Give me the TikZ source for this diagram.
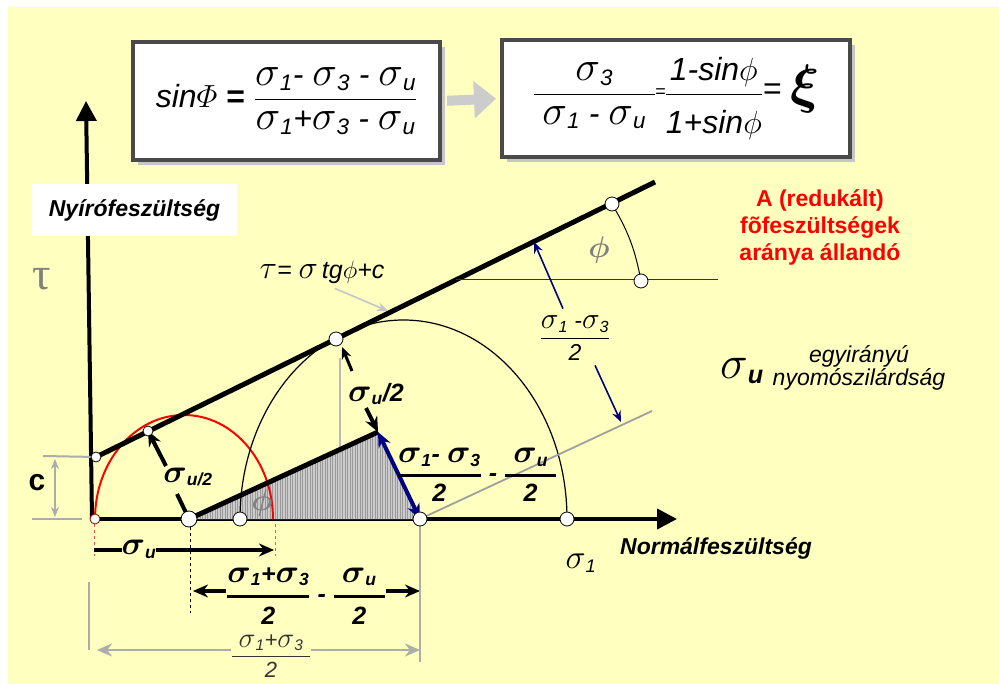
\RequirePackage{fix-cm}
\documentclass[tikz,border=0pt]{standalone}
\usepackage{amsmath}
\usepackage{fontspec}
\setmainfont{Liberation Sans}
\newfontfamily\taufont{Liberation Serif}
\usepackage{xcolor}
\usetikzlibrary{arrows.meta}
\usetikzlibrary{shadows}
\definecolor{bgyellow}{HTML}{FFFFC0}
\definecolor{boxgray}{HTML}{4A4A4A}
\definecolor{navyarrow}{HTML}{000080}
\newcommand{\bsig}{\text{\scalebox{1.3}{$\sigma$}}}
\newcommand{\sgm}[1]{\bsig_{\textit{#1}}}
\newcommand{\fsz}[2]{\fontsize{#1}{#2}\selectfont}

\begin{document}
\begin{tikzpicture}[
  x=1pt, y=-1pt,
  every node/.style={font=\fsz{23}{26}\itshape, inner sep=1pt},
  formbox/.style={draw=boxgray, line width=4pt, fill=white,
    drop shadow={shadow xshift=5pt, shadow yshift=-5pt, fill=gray!45, opacity=1}},
  axis/.style={line width=4pt, -{Triangle[length=20pt,width=20pt]}},
  envelope/.style={line width=5pt},
  thinarc/.style={line width=1.2pt},
  dot/.style={circle, draw, fill=white, line width=0.8pt, inner sep=0pt, minimum size=14pt},
  smalldot/.style={dot, minimum size=10pt},
  dimline/.style={draw=gray!65, line width=2pt},
  boldlbl/.style={font=\fsz{25}{30}\bfseries\itshape\boldmath},
  tip/.style={-{Stealth[length=15pt,width=13pt]}},
  twotip/.style={{Stealth[length=15pt,width=13pt]}-{Stealth[length=15pt,width=13pt]}},
  gap/.style={fill=bgyellow, inner sep=0pt}
]
\fill[white] (0,0) rectangle (999,684);
\fill[bgyellow] (8,7) rectangle (999,684);
\useasboundingbox (0,0) rectangle (999,684);

% formulas
\node[formbox, minimum width=307pt, minimum height=118pt] (box1) at (286.5,101)
  {\fsz{32}{34}sin$\varPhi$ \textbf{\upshape =} $\dfrac{\sgm{1}\text{- }\sgm{3}\text{ - }\sgm{u}}{\sgm{1}\text{+}\sgm{3}\text{ - }\sgm{u}}$};
\node[formbox, minimum width=348pt, minimum height=117pt] (box2) at (676,98.5)
  {\fsz{32}{34}$\dfrac{\;\sgm{3}\;}{\;\sgm{1}\text{ - }\sgm{u}\;}$\kern-1pt\raisebox{5pt}{\fsz{18}{18}=}\kern-1pt$\dfrac{\text{1-sin}\phi\rule[-8pt]{0pt}{8pt}}{\rule{0pt}{36pt}\text{1+sin}\phi}$\raisebox{3pt}{\upshape =} {\fsz{54}{54}\boldmath$\xi$}};
\draw[line width=10pt, gray!40, -{Triangle[length=22pt,width=36pt]}, shorten <=5pt, shorten >=4pt] (box1.east) -- (box2.west);

\coordinate (O) at (92,519);
\coordinate (ytip) at (86,101);
\coordinate (xtip) at (677,519);
\coordinate (C) at (96,457);
\coordinate (Eend) at (655,182);
\coordinate (T1) at (148,431);
\coordinate (T2) at (336,339);
\coordinate (T3) at (612,204);
\coordinate (A4) at (641,281);
\coordinate (Hs) at (456,280);
\coordinate (He) at (718,280);
\coordinate (M1) at (189,519);
\coordinate (S3) at (240,519);
\coordinate (M2) at (420,519);
\coordinate (S1) at (567,519);
\coordinate (R) at (378,432);
\coordinate (Gend) at (652,411);
\coordinate (Rr) at (273,519);

% axes
\draw[axis] (O) -- (ytip);
\draw[axis] (O) -- (xtip);
\node[fill=white, minimum width=205pt, minimum height=52pt, font=\fsz{23}{26}\bfseries\itshape] (tauname) at (134.5,210.5) {Nyírófeszültség};
\node[text=gray, font=\fsz{46}{46}\taufont] (tau) at (42,279) {τ};
\node[font=\fsz{23}{26}\bfseries\itshape] (signame) at (716,548) {Normálfeszültség};

% reduced triangle
\begin{scope}
  \clip (M1) -- (R) -- (M2) -- cycle;
  \fill[gray!40] (M1) -- (R) -- (M2) -- cycle;
  \foreach \hx in {190,192.5,...,420}
    \draw[gray!80, line width=0.8pt] (\hx,428) -- (\hx,520);
\end{scope}
\draw[gray!55, line width=2pt] (340,358) -- (340,519);

% circles
\draw[red, line width=2pt] (Rr) arc[start angle=0, end angle=-180, x radius=89, y radius=104];
\draw[thinarc] (S1) arc[start angle=0, end angle=-180, x radius=163.5, y radius=199];

% lines
\draw[envelope] (C) -- (Eend);
\draw[envelope] (M1) -- (R);
\draw[gray!75, line width=1.8pt] (M2) -- (Gend);
\draw[line width=1pt, black!80] (Hs) -- (He);
\draw[line width=1pt] (T3) to[bend left=10] (A4);
\node[text=gray, font=\fsz{30}{30}\bfseries\boldmath] (philbl) at (599,250) {$\phi$};
\node[text=gray, font=\fsz{30}{30}\bfseries\boldmath] (phired) at (262,503) {$\phi$};
\draw[navyarrow, line width=4pt, twotip] (R) -- (M2);

% law
\node[font=\fsz{25}{28}\itshape] (law) at (322,272) {$\text{\scalebox{1.3}{$\tau$}}\text{= }\bsig\,\textit{tg}\phi\textit{+c}$};
\coordinate (lawhit) at (388,311);
\draw[gray!45, line width=1.6pt, -{Stealth[length=11pt,width=9pt]}] ([xshift=13pt,yshift=-4pt]law.south) -- (lawhit);

% distance labels
\node[font=\fsz{23}{26}\itshape] (dhalf) at (575,338) {$\genfrac{}{}{1.6pt}{0}{\sgm{1}\text{ -}\sgm{3}}{\text{2}}$};
\coordinate (dtop) at (534,242);
\coordinate (dbot) at (621,422);
\draw[navyarrow, line width=1.6pt, -{Stealth[length=11pt,width=9pt]}] ([xshift=-12pt,yshift=6pt]dhalf.north) -- (dtop);
\draw[navyarrow, line width=1.6pt, -{Stealth[length=11pt,width=9pt]}] ([xshift=20pt,yshift=-4pt]dhalf.south) -- (dbot);

\node[boldlbl] (suhalf) at (376,394) {$\sgm{u}$/2};
\coordinate (suup) at (342,347);
\draw[line width=3pt, -{Stealth[length=12pt,width=10pt]}] (352,371) -- (suup);
\draw[line width=4pt, tip] (366,408) -- (R);

\node[boldlbl] (sured) at (188,477) {$\bsig_{\textit{u/2}}$};
\draw[line width=4pt, tip] (166,466) -- (T1);
\draw[line width=4pt] (177,494) -- (M1);

\node[boldlbl] (difflbl) at (477,475) {$\genfrac{}{}{2.5pt}{0}{\sgm{1}\text{- }\sgm{3}}{\text{2}}\text{ - }\genfrac{}{}{2.5pt}{0}{\;\sgm{u}\;}{\text{2}}$};

% c
\draw[dimline] (43,456) -- (C);
\draw[dimline] (32,519) -- (82,519);
\draw[dimline, {Stealth[length=10pt,width=8pt]}-{Stealth[length=10pt,width=8pt]}] (55,459) -- (55,517);
\node[font=\fsz{30}{30}\bfseries\upshape] (clbl) at (37,483) {c};

% bottom dimensions
\draw[red!70, dashed, line width=1pt] (94,524) -- (94,556);
\draw[red!70, dashed, line width=1pt] (Rr) ++(2,5) -- ++(0,32);
\draw[line width=4pt, tip] (94,550) -- (274,550);
\node[boldlbl, gap] (sulbl) at (139,549) {$\sgm{u}$};
\draw[dashed, line width=1pt] (190,527) -- (190,613);
\draw[line width=4pt, twotip] (193,591) -- (420,591);
\node[boldlbl, gap] (sumlbl) at (306,596) {$\genfrac{}{}{3pt}{0}{\sgm{1}\text{+}\sgm{3}}{\text{2}}\text{ - }\genfrac{}{}{3pt}{0}{\;\sgm{u}\;}{\text{2}}$};
\draw[gray!65, line width=2pt] (M2) -- (420,662);
\draw[gray!65, line width=2pt] (89,582) -- (89,650);
\draw[gray!65, line width=2.5pt, twotip] (97,650) -- (420,650);
\node[gap, text=gray!40!black, font=\fsz{22}{26}\itshape] (halfsum) at (271,656) {$\genfrac{}{}{1.6pt}{0}{\;\sgm{1}\text{+}\sgm{3}\;}{\text{2}}$};

\node[font=\fsz{26}{27}\itshape] (s1lbl) at (581,563) {$\sgm{1}$};

% side texts
\node[text=red, font=\fsz{23}{27}\bfseries\upshape, align=center] (ratio) at (820,227) {A (redukált)\\fõfeszültségek\\aránya állandó};
\node[font=\fsz{36}{36}\itshape] (sigu) at (742,371) {$\bsig_{\textbf{\textit{u}}}$};
\node[font=\fsz{23}{23}\itshape, align=center] (ucs) at (859,368) {egyirányú\\nyomószilárdság};

% points
\node[smalldot, draw=red!60!black] (p0) at (95,519) {};
\node[smalldot] (pc) at (C) {};
\node[smalldot] (pt1) at (T1) {};
\node[dot] (pt2) at (T2) {};
\node[dot] (pt3) at (T3) {};
\node[dot] (pt4) at (A4) {};
\node[dot, minimum size=16pt] (pm1) at (M1) {};
\node[dot] (ps3) at (S3) {};
\node[dot] (pm2) at (M2) {};
\node[dot] (ps1) at (S1) {};
\end{tikzpicture}
\end{document}
